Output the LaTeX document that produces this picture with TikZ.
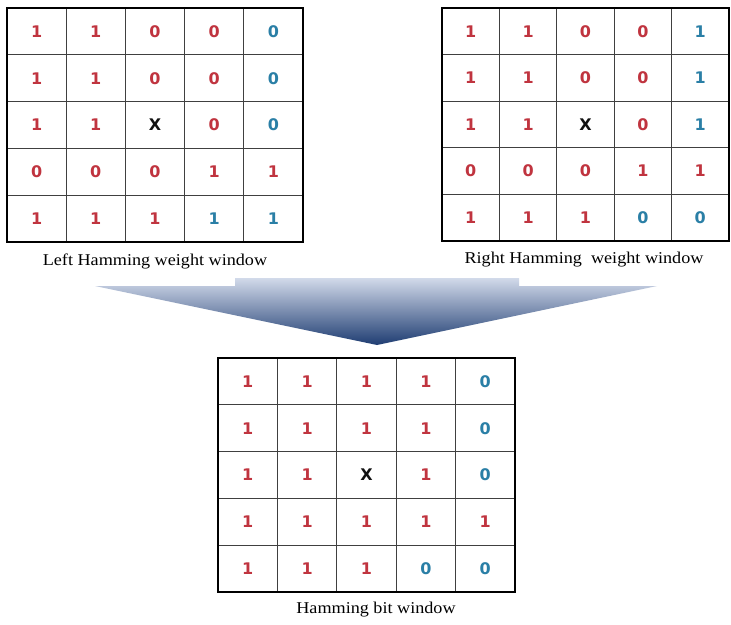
\documentclass[tikz,border=0pt]{standalone}
\usepackage{fontspec}
\setmainfont{Liberation Serif}[FakeStretch=1.1]
\newfontfamily\digitfont{DejaVu Sans}
\definecolor{R}{HTML}{C0343F}
\definecolor{B}{HTML}{2A7FA6}
\definecolor{K}{HTML}{111111}
\definecolor{arrowtop}{HTML}{D2DAEA}
\definecolor{arrowbot}{HTML}{1F3D72}
\tikzset{
  gridline/.style={draw=black!75, line width=1pt},
  gridframe/.style={draw=black, line width=2.6pt},
  celltext/.style={font=\digitfont\bfseries\fontsize{16}{16}\selectfont, inner sep=0pt, anchor=center},
  caption/.style={font=\fontsize{16.5}{18}\selectfont, anchor=base, inner sep=0pt}
}
\newcommand\hamgrid[6]{%
  \pgfmathsetmacro\cw{(#4-#2)/5}%
  \pgfmathsetmacro\ch{(#5-#3)/5}%
  \foreach \k in {1,...,4}{%
    \draw[gridline] ({#2+\k*\cw},#3) -- ({#2+\k*\cw},#5);
    \draw[gridline] (#2,{#3+\k*\ch}) -- (#4,{#3+\k*\ch});
  }%
  \draw[gridframe] (#2,#3) rectangle (#4,#5);
  \foreach \row [count=\i] in {#6}{%
    \foreach \s/\t [count=\j] in \row{%
      \node[celltext, text=\s] (#1-\i-\j) at ({#2+(\j-0.5)*\cw},{#3+(\i-0.5)*\ch}) {\t};
    }%
  }%
}
\begin{document}
\begin{tikzpicture}[x=1pt,y=-1pt]
\useasboundingbox[fill=white] (0,0) rectangle (731,624);
% left window
\hamgrid{L}{7}{8}{303}{242}{%
  {R/1,R/1,R/0,R/0,B/0},
  {R/1,R/1,R/0,R/0,B/0},
  {R/1,R/1,K/X,R/0,B/0},
  {R/0,R/0,R/0,R/1,R/1},
  {R/1,R/1,R/1,B/1,B/1}}
\node[caption] (lcap) at (155,265) {Left Hamming weight window};
% right window
\hamgrid{Rw}{442}{8}{729}{241}{%
  {R/1,R/1,R/0,R/0,B/1},
  {R/1,R/1,R/0,R/0,B/1},
  {R/1,R/1,K/X,R/0,B/1},
  {R/0,R/0,R/0,R/1,R/1},
  {R/1,R/1,R/1,B/0,B/0}}
\node[caption] (rcap) at (584,263) {Right Hamming\ \ weight window};
% merging arrow
\shade[top color=arrowtop, bottom color=arrowbot]
  (95,286) -- (235,286) -- (235,278) -- (519,278) -- (519,286) -- (657,286) -- (377,345) -- cycle;
% bottom window
\hamgrid{H}{218}{358}{515}{592}{%
  {R/1,R/1,R/1,R/1,B/0},
  {R/1,R/1,R/1,R/1,B/0},
  {R/1,R/1,K/X,R/1,B/0},
  {R/1,R/1,R/1,R/1,R/1},
  {R/1,R/1,R/1,B/0,B/0}}
\node[caption] (hcap) at (376,613) {Hamming bit window};
\end{tikzpicture}
\end{document}
